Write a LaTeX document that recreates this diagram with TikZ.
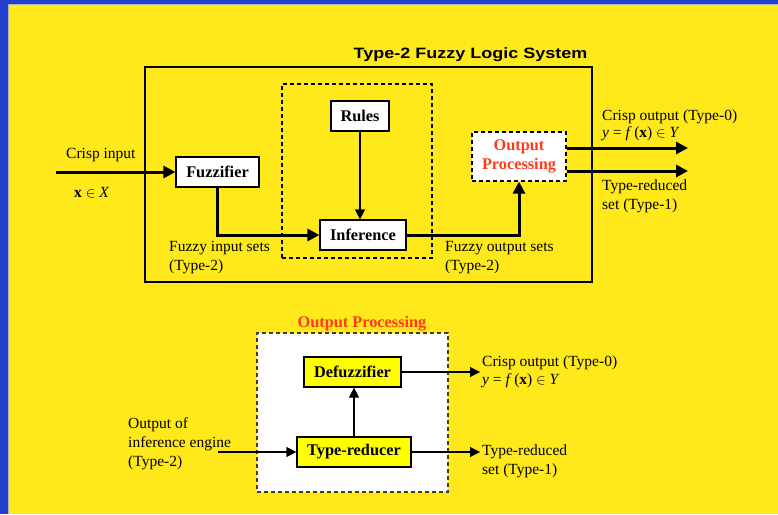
\documentclass[tikz,border=0pt]{standalone}
\usepackage{graphicx}
\usepackage{fontspec}
\setmainfont{Liberation Serif}
\newfontfamily\titlefont{Liberation Sans}
\usetikzlibrary{arrows.meta}
\definecolor{bgyellow}{RGB}{255,233,26}
\definecolor{bgblue}{RGB}{34,64,208}
\definecolor{redtxt}{RGB}{255,58,26}
\definecolor{boxyellow}{RGB}{255,255,0}
\definecolor{dashgray}{RGB}{60,60,60}
\begin{document}
\begin{tikzpicture}[x=1pt,y=-1pt,
  font=\fontsize{15.5}{19}\selectfont,
  blk/.style={draw, fill=white, line width=1.2pt, inner sep=0pt,
    font=\fontsize{16.3}{19}\selectfont\bfseries},
  frame/.style={draw, line width=1.2pt, inner sep=0pt},
  dashframe/.style={draw, line width=1.2pt, inner sep=0pt, dash pattern=on 4pt off 3pt},
  thickarr/.style={line width=3pt, -{Triangle[length=12pt,width=12pt]}},
  thinarr/.style={line width=1.2pt, -{Triangle[length=10pt,width=10pt]}},
  lbl/.style={anchor=base west, inner sep=0pt, align=left},
  tightlbl/.style={lbl, font=\fontsize{15.5}{17.5}\selectfont}]
% background
\useasboundingbox (0,0) rectangle (778,514);
\fill[bgblue] (0,0) rectangle (778,514);
\fill[bgyellow] (8,4) rectangle (778,514);
\draw[gray!60, line width=0.8pt] (8,514) -- (8,4) -- (778,4);

% ===== upper diagram =====
\node[anchor=base, inner sep=0pt] (title) at (470.5,58)
  {\titlefont\bfseries\fontsize{15}{18}\selectfont\scalebox{1.2}[1]{Type-2 Fuzzy Logic System}};
\node[frame, minimum width=447pt, minimum height=215pt] (sys) at (368.5,174.5) {};
\node[dashframe, minimum width=150pt, minimum height=174pt] (engine) at (357,171) {};

\node[blk, minimum width=58pt, minimum height=30pt] (rules) at (360,116) {Rules};
\node[blk, minimum width=83pt, minimum height=30pt] (fuzz) at (217.5,172) {Fuzzifier};
\node[blk, minimum width=86pt, minimum height=30pt] (inf) at (363,235) {Inference};
\node[blk, dash pattern=on 4pt off 3pt, minimum width=94pt, minimum height=49pt,
  align=center, text=redtxt] (op) at (519,156.5) {Output\\Processing};

\coordinate (cin) at (56,172);
\draw[thickarr] (cin) -- (fuzz.west);
\draw[thickarr] (fuzz.south) |- (inf.west);
\draw[thickarr] (inf.east) -| (op.south);
\draw[thinarr] (rules.south) -- (rules.south |- inf.north);
\coordinate (o1) at (688,148);
\coordinate (o2) at (688,171);
\draw[thickarr] (op.east |- o1) -- (o1);
\draw[thickarr] (op.east |- o2) -- (o2);

\node[lbl] (lcin) at (66,158) {Crisp input};
\node[lbl] (lx) at (74,197) {\textbf{x} $\in$ \textit{X}};
\node[lbl] (lfin) at (169,270) {Fuzzy input sets\\(Type-2)};
\node[lbl] (lfout) at (445,270) {Fuzzy output sets\\(Type-2)};
\node[tightlbl] (lco) at (602,137.5) {Crisp output (Type-0)\\\textit{y} = \textit{f}\,(\textbf{x}) $\in$ \textit{Y}};
\node[lbl] (ltr) at (602,209.5) {Type-reduced\\set (Type-1)};

% ===== lower diagram =====
\node[anchor=base, inner sep=0pt, text=redtxt, font=\fontsize{16.3}{19}\selectfont\bfseries]
  (optitle) at (362,327) {Output Processing};
\node[draw=dashgray, fill=white, line width=1.2pt, inner sep=0pt, dash pattern=on 4pt off 3pt,
  minimum width=191pt, minimum height=159pt] (opbox) at (352.5,412.5) {};
\node[blk, fill=boxyellow, minimum width=97pt, minimum height=30pt] (defz) at (352.5,372) {Defuzzifier};
\node[blk, fill=boxyellow, minimum width=114pt, minimum height=30pt] (tred) at (354,452) {Type-reducer};

\coordinate (oin) at (218,452);
\coordinate (d1) at (480,372);
\coordinate (d2) at (480,452);
\draw[thinarr] (oin) -- (tred.west);
\draw[thinarr] (tred.north) -- (tred.north |- defz.south);
\draw[thinarr] (defz.east) -- (d1);
\draw[thinarr] (tred.east) -- (d2);

\node[lbl] (loin) at (128,466) {Output of\\inference engine\\(Type-2)};
\node[tightlbl] (lco2) at (482,384) {Crisp output (Type-0)\\\textit{y} = \textit{f}\,(\textbf{x}) $\in$ \textit{Y}};
\node[lbl] (ltr2) at (482,474.5) {Type-reduced\\set (Type-1)};
\end{tikzpicture}
\end{document}
